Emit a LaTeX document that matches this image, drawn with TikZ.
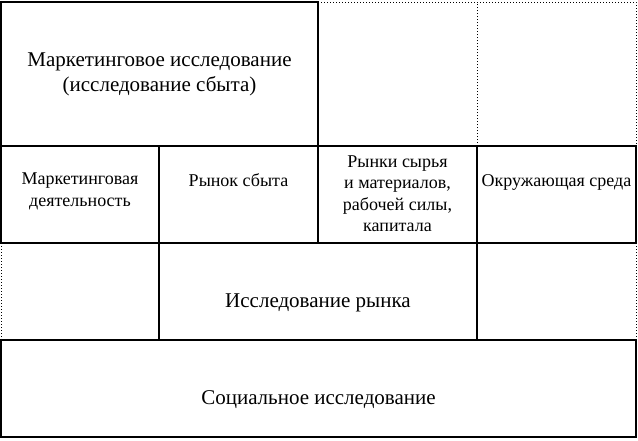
\documentclass[tikz,border=0pt]{standalone}
\usepackage{fontspec}
\setmainfont{Liberation Serif}
\usetikzlibrary{positioning}

\tikzset{
  cell/.style={draw, line width=2pt, outer sep=0pt, inner sep=0pt, minimum height=97pt},
  big/.style={font=\fontsize{21}{25}\selectfont, align=center, inner sep=0pt},
  small/.style={font=\fontsize{18}{21.4}\selectfont, align=center, inner sep=0pt},
  gap/.style={dotted, line width=1pt}
}

\begin{document}
\begin{tikzpicture}[x=1pt,y=1pt]
    \useasboundingbox (0,0) rectangle (638,-440);

    \node(mi)[cell, minimum width=317pt, minimum height=144pt, anchor=north west] at (1,-2) {};
    \node(md)[cell, minimum width=158pt, anchor=north west] at (mi.south west) {};
    \node(rs)[cell, minimum width=159pt, right=0pt of md] {};
    \node(sr)[cell, minimum width=159pt, right=0pt of rs] {};
    \node(ok)[cell, minimum width=159pt, right=0pt of sr] {};
    \node(ir)[cell, minimum width=318pt, anchor=north west] at (rs.south west) {};
    \node(si)[cell, minimum width=635pt, anchor=north west] at (md.south west |- ir.south) {};
    \coordinate (tr) at (ok.east |- mi.north);

    % base = last line of the text
    \node(mit)[big, below=89.7pt of mi.north, anchor=base] {Маркетинговое исследование\\(исследование сбыта)};
    \node(mdt)[small, below=60pt of md.north, anchor=base] {Маркетинговая\\деятельность};
    \node(rst)[small, below=40pt of rs.north, anchor=base] {Рынок сбыта};
    \node(srt)[small, below=85.7pt of sr.north, anchor=base] {Рынки сырья\\и материалов,\\рабочей силы,\\капитала};
    \node(okt)[small, below=40pt of ok.north, anchor=base] {Окружающая среда};
    \node(irt)[big, below=64.3pt of ir.north, anchor=base] {Исследование рынка};
    \node(sit)[big, below=64pt of si.north, anchor=base] {Социальное исследование};

    \draw[gap] (mi.north east) -- (tr) -- (ok.north east);
    \draw[gap] (sr.north east) -- (sr.north east |- tr);
    \draw[gap] (md.south west) -- (si.north west);
    \draw[gap] (ok.south east) -- (si.north east);
\end{tikzpicture}
\end{document}
